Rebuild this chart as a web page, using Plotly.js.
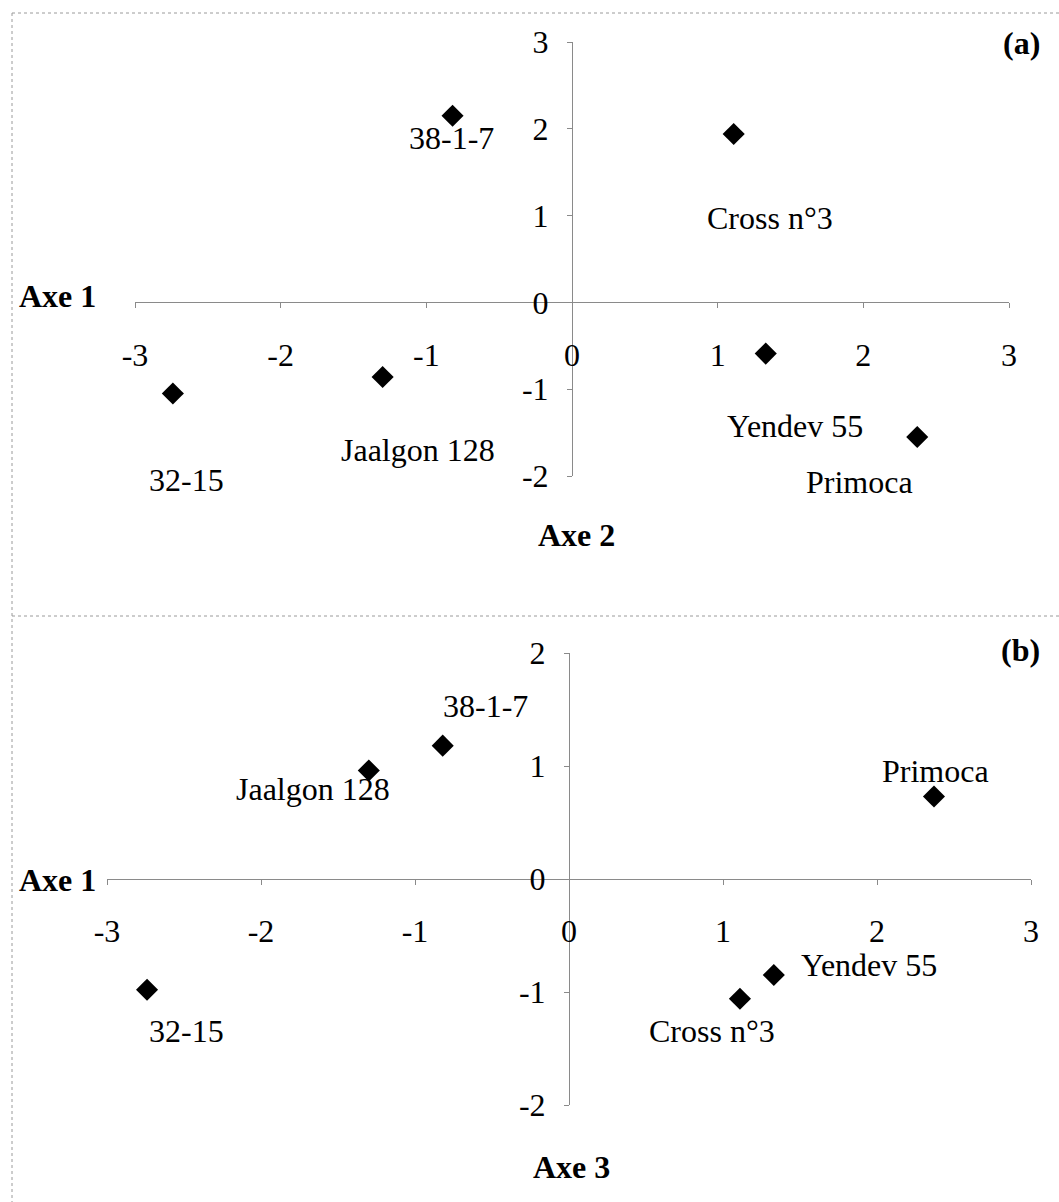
<!DOCTYPE html>
<html>
<head>
<meta charset="utf-8">
<script src="https://cdn.plot.ly/plotly-3.0.1.min.js"></script>
<style>html,body{margin:0;padding:0;background:#fff}#chart{width:1059px;height:1202px}</style>
</head>
<body>
<div id="chart"></div>
<script>
// ---- data ----
const names = ['38-1-7', 'Cross n°3', '32-15', 'Jaalgon 128', 'Yendev 55', 'Primoca'];
const axe1 = [-0.82, 1.11, -2.74, -1.30, 1.33, 2.37];
const axe2 = [2.15, 1.94, -1.05, -0.86, -0.59, -1.55];
const axe3 = [1.18, -1.06, -0.98, 0.96, -0.85, 0.73];
const xTicks = [-3, -2, -1, 0, 1, 2, 3];
const xTickText = ['-3', '-2', '-1', '0', '1', '2', '3'];
const yTicksA = [-2, -1, 0, 1, 2, 3];
const yTickTextA = ['-2', '-1', '0', '1', '2', '3'];
const yTicksB = [-2, -1, 0, 1, 2];
const yTickTextB = ['-2', '-1', '0', '1', '2'];
const panelLabels = ['(a)', '(b)'];
const axisNames = ['Axe 1', 'Axe 2', 'Axe 3'];

// ---- layout helpers (pixel-based, margins are 0) ----
const W = 1059, H = 1202;
const px = p => p / W;
const py = p => 1 - p / H;
const FONT = 'Liberation Serif, Times New Roman, serif';

// label offsets in pixels (dx right, dy down) for each point
const offA = [[-1, 22], [36, 84], [14, 86], [35, 73], [29, 72], [-58, 45]];
const offB = [[43, -40], [-28, 32], [39, 41], [-56, 18], [95, -10], [2, -26]];

const dxA = [px(135), px(1009)], dyA = [py(476), py(42)];
const dxB = [px(107), px(1031)], dyB = [py(1105), py(653)];
const xRange = [-3, 3], yRangeA = [-2, 3], yRangeB = [-2, 2];

function zeroPos(dom, rng) {
  return dom[0] + (0 - rng[0]) / (rng[1] - rng[0]) * (dom[1] - dom[0]);
}

const tickFont = {family: FONT, size: 32, color: '#000'};
const axisCommon = {
  showgrid: false, zeroline: false, showline: true,
  linecolor: '#8a8a8a', linewidth: 1,
  ticks: 'outside', ticklen: 5, tickcolor: '#8a8a8a', tickwidth: 1,
  tickfont: tickFont, fixedrange: true, automargin: false, anchor: 'free',
  tickmode: 'array'
};

const marker = {symbol: 'diamond', size: 17, color: '#000', line: {width: 0}};

const traces = [
  {x: axe1, y: axe2, xaxis: 'x', yaxis: 'y', mode: 'markers', type: 'scatter',
   marker: marker, text: names, hoverinfo: 'text'},
  {x: axe1, y: axe3, xaxis: 'x2', yaxis: 'y2', mode: 'markers', type: 'scatter',
   marker: marker, text: names, hoverinfo: 'text'}
];

const annotations = [];
names.forEach((n, i) => {
  annotations.push({xref: 'x', yref: 'y', x: axe1[i], y: axe2[i], text: n, showarrow: false,
    xanchor: 'center', yanchor: 'middle', xshift: offA[i][0], yshift: -offA[i][1],
    font: {family: FONT, size: 32, color: '#000'}});
  annotations.push({xref: 'x2', yref: 'y2', x: axe1[i], y: axe3[i], text: n, showarrow: false,
    xanchor: 'center', yanchor: 'middle', xshift: offB[i][0], yshift: -offB[i][1],
    font: {family: FONT, size: 32, color: '#000'}});
});
const boldFont = {family: FONT, size: 32, color: '#000', weight: 'bold'};
annotations.push(
  {xref: 'paper', yref: 'paper', x: px(1042), y: py(43), text: '<b>' + panelLabels[0] + '</b>', showarrow: false, xanchor: 'right', yanchor: 'middle', font: boldFont},
  {xref: 'paper', yref: 'paper', x: px(1042), y: py(650), text: '<b>' + panelLabels[1] + '</b>', showarrow: false, xanchor: 'right', yanchor: 'middle', font: boldFont},
  {xref: 'paper', yref: 'paper', x: px(17), y: py(296), text: '<b>' + axisNames[0] + '</b>', showarrow: false, xanchor: 'left', yanchor: 'middle', font: boldFont},
  {xref: 'paper', yref: 'paper', x: px(576), y: py(535), text: '<b>' + axisNames[1] + '</b>', showarrow: false, xanchor: 'center', yanchor: 'middle', font: boldFont},
  {xref: 'paper', yref: 'paper', x: px(17), y: py(880), text: '<b>' + axisNames[0] + '</b>', showarrow: false, xanchor: 'left', yanchor: 'middle', font: boldFont},
  {xref: 'paper', yref: 'paper', x: px(571), y: py(1167), text: '<b>' + axisNames[2] + '</b>', showarrow: false, xanchor: 'center', yanchor: 'middle', font: boldFont}
);

const borderLine = {color: '#9a9a9a', width: 1, dash: 'dot'};
const shapes = [
  {type: 'line', xref: 'paper', yref: 'paper', x0: px(12), x1: 1, y0: py(13), y1: py(13), line: borderLine},
  {type: 'line', xref: 'paper', yref: 'paper', x0: px(12), x1: 1, y0: py(616), y1: py(616), line: borderLine},
  {type: 'line', xref: 'paper', yref: 'paper', x0: px(12), x1: px(12), y0: py(13), y1: 0, line: borderLine}
];

const layout = {
  width: W, height: H,
  margin: {l: 0, r: 0, t: 0, b: 0, pad: 0},
  paper_bgcolor: '#fff', plot_bgcolor: 'rgba(0,0,0,0)',
  showlegend: false,
  xaxis: Object.assign({}, axisCommon, {domain: dxA, range: xRange, tickvals: xTicks, ticktext: xTickText,
    position: zeroPos(dyA, yRangeA), ticklabelstandoff: 19}),
  yaxis: Object.assign({}, axisCommon, {domain: dyA, range: yRangeA, tickvals: yTicksA, ticktext: yTickTextA,
    position: zeroPos(dxA, xRange), ticklabelstandoff: 12}),
  xaxis2: Object.assign({}, axisCommon, {domain: dxB, range: xRange, tickvals: xTicks, ticktext: xTickText,
    position: zeroPos(dyB, yRangeB), ticklabelstandoff: 19}),
  yaxis2: Object.assign({}, axisCommon, {domain: dyB, range: yRangeB, tickvals: yTicksB, ticktext: yTickTextB,
    position: zeroPos(dxB, xRange), ticklabelstandoff: 12}),
  annotations: annotations,
  shapes: shapes
};

Plotly.newPlot('chart', traces, layout, {displayModeBar: false, staticPlot: true});
</script>
</body>
</html>
